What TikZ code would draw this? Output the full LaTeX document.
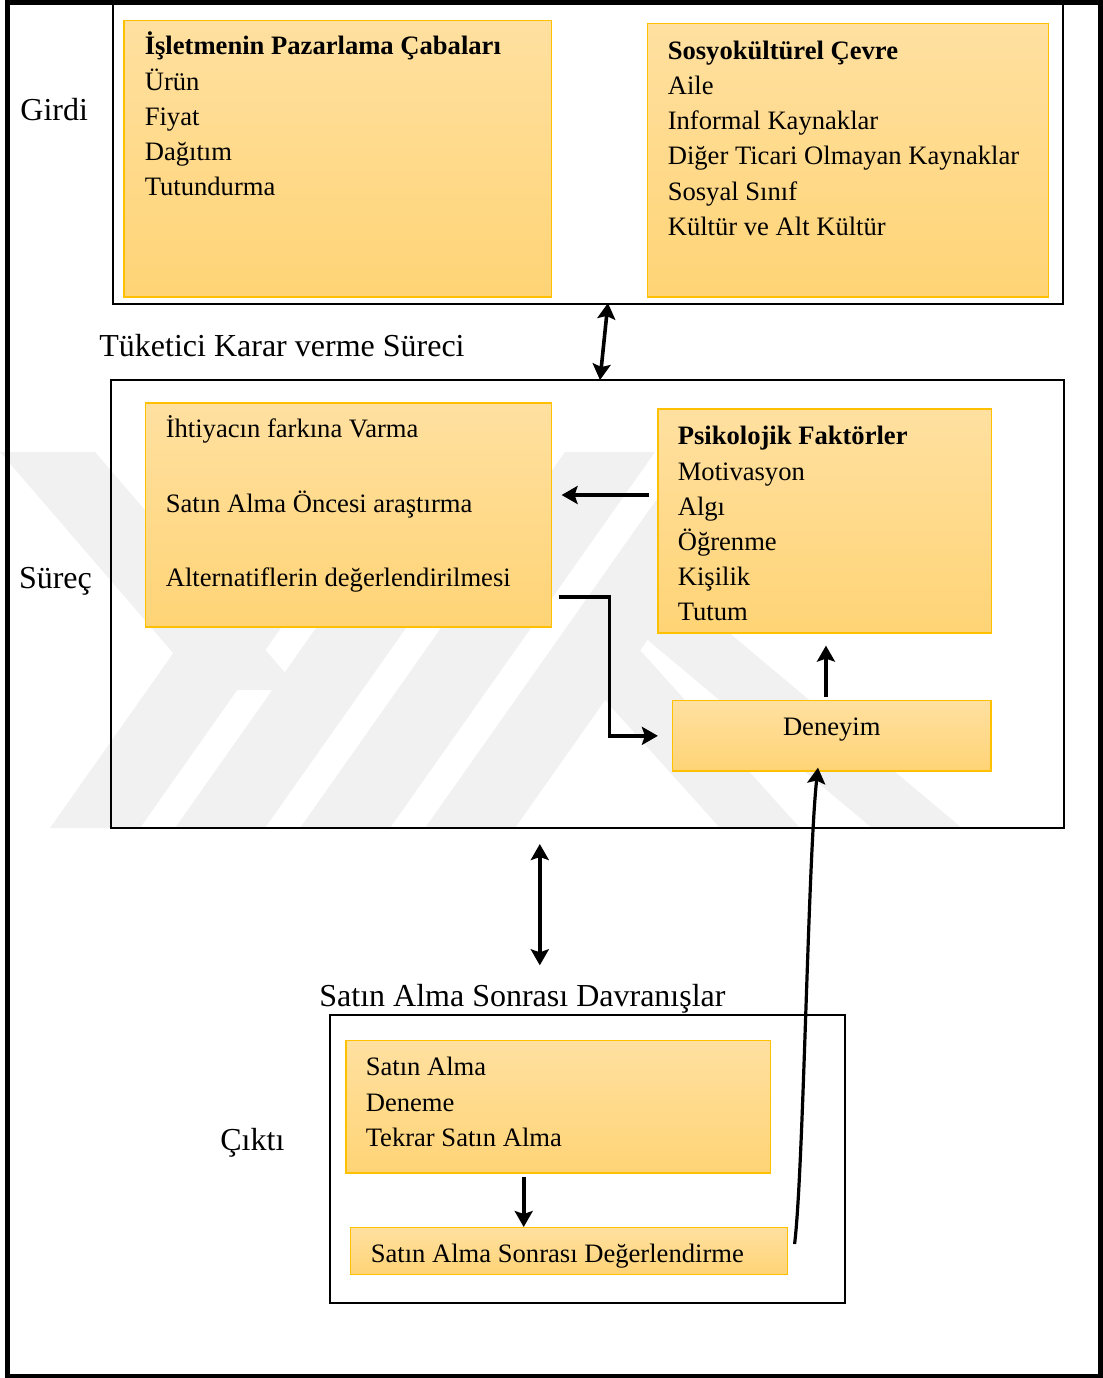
\documentclass[tikz,border=0pt]{standalone}
\usepackage{fontspec}
\setmainfont{Liberation Serif}
\usetikzlibrary{arrows.meta,positioning,fit}

\definecolor{kutuust}{RGB}{255,224,160}
\definecolor{kutualt}{RGB}{255,212,118}
\definecolor{kutucizgi}{RGB}{255,192,0}
\definecolor{filigran}{RGB}{241,241,241}

\begin{document}
\begin{tikzpicture}[x=0.5pt,y=-0.5pt,>={Stealth[length=8pt,width=9pt,inset=1.5pt]},
  kutu/.style={draw=kutucizgi,line width=0.6pt,top color=kutuust,bottom color=kutualt,inner sep=0pt},
  cerceve/.style={draw,line width=1pt,inner sep=0pt},
  yazi/.style={align=left,inner sep=0pt,font=\fontsize{13.3}{17.6}\selectfont},
  etiket/.style={inner sep=0pt,anchor=base west,font=\fontsize{16}{19}\selectfont},
  ok/.style={->,line width=1.8pt},
  ciftok/.style={<->,line width=1.8pt}]
  \useasboundingbox (0,0) rectangle (1103,1378);

  % filigran (arka plan)
  \begin{scope}
    \clip (0,452) rectangle (962,828);
    \foreach \s in {50,175,300,425}
      \fill[filigran] (\s,828) -- ++(90,0) -- ++(265,-376) -- ++(-90,0) -- cycle;
    \fill[filigran] (0,452) -- (95,452) -- (300,690) -- (205,690) -- cycle;
    \fill[filigran] (600,600) -- (690,600) -- (962,828) -- (872,828) -- cycle;
    \fill[filigran] (560,650) -- (640,650) -- (800,828) -- (720,828) -- cycle;
  \end{scope}

  % dis cerceve
  \draw[line width=2.5pt] (7,2.5) rectangle (1100,1376);

  % Girdi
  \node[cerceve, fit={(112.5,4) (1063,304)}] (girdi) {};
  \node[kutu, fit={(124,20.7) (551.8,297)}] (firma) {};
  \node[kutu, fit={(647.4,23.7) (1048.8,297)}] (sosyo) {};
  \node[yazi, below right=4.85pt and 10.5pt of firma.north west] (firmayazi)
    {\strut\textbf{İşletmenin Pazarlama Çabaları}\\Ürün\\Fiyat\\Dağıtım\\Tutundurma};
  \node[yazi, below right=5.6pt and 10.3pt of sosyo.north west] (sosyoyazi)
    {\strut\textbf{Sosyokültürel Çevre}\\Aile\\Informal Kaynaklar\\Diğer Ticari Olmayan Kaynaklar\\Sosyal Sınıf\\Kültür ve Alt Kültür};
  \node[etiket] (girdilbl) at (20,120) {Girdi};

  % Surec
  \node[etiket] (kararlbl) at (99,356) {Tüketici Karar verme Süreci};
  \node[cerceve, fit={(110.7,380) (1063.5,828)}] (surec) {};
  \node[kutu, fit={(145.7,403) (551.8,627)}] (ihtiyac) {};
  \node[kutu, fit={(658,409) (991.3,633)}] (psiko) {};
  \node[kutu, fit={(672.5,700.7) (991,771)}] (deneyim) {};
  \node[yazi, below right=5.2pt and 10.15pt of ihtiyac.north west] (ihtiyacyazi)
    {\strut İhtiyacın farkına Varma\\[19.65pt]Satın Alma Öncesi araştırma\\[19.65pt]Alternatiflerin değerlendirilmesi};
  \node[yazi, below right=5.7pt and 10pt of psiko.north west] (psikoyazi)
    {\strut\textbf{Psikolojik Faktörler}\\Motivasyon\\Algı\\Öğrenme\\Kişilik\\Tutum};
  \node[yazi, below=5.2pt of deneyim.north] (deneyimyazi) {\strut Deneyim};
  \node[etiket] (sureclbl) at (18.6,588) {Süreç};

  % Cikti
  \node[etiket] (davranis) at (319,1006.6) {Satın Alma Sonrası Davranışlar};
  \node[cerceve, fit={(329.6,1015) (845,1302.7)}] (cikti) {};
  \node[kutu, fit={(346,1040.8) (770.6,1173)}] (satin) {};
  \node[kutu, fit={(350.5,1227.6) (787.6,1274.4)}] (deger) {};
  \node[yazi, below right=5.3pt and 10pt of satin.north west] (satinyazi)
    {\strut Satın Alma\\Deneme\\Tekrar Satın Alma};
  \node[yazi, below right=5.4pt and 10.25pt of deger.north west] (degeryazi)
    {\strut Satın Alma Sonrası Değerlendirme};
  \node[etiket] (ciktilbl) at (220,1150) {Çıktı};

  % oklar
  \draw[ciftok] ([xshift=10.1pt,yshift=1pt]girdi.south) -- ([xshift=6.45pt,yshift=-0.5pt]surec.north);
  \draw[ok, shorten <=4pt, shorten >=4.6pt] ([yshift=13pt]psiko.west) -- ([yshift=13pt]ihtiyac.east |- psiko.west);
  \draw[ok, shorten >=7pt] ([xshift=3.45pt,yshift=-40.85pt]ihtiyac.east) -- ++(25.15pt,0pt) |- (deneyim.west);
  \draw[ok, shorten <=1.8pt, shorten >=6pt] ([xshift=-2.9pt]deneyim.north) -- ([xshift=-2.9pt]deneyim.north |- psiko.south);
  \draw[ok, line width=1.6pt] ([xshift=3.2pt,yshift=3.5pt]deger.east)
    .. controls +(9,-74) and +(-10,93) .. ([xshift=-6.9pt,yshift=2pt]deneyim.south);
  \draw[ciftok, shorten >=9.35pt] ([xshift=-23.65pt,yshift=-7.5pt]surec.south) -- ([xshift=-23.65pt]surec.south |- davranis.north);
  \draw[ok] ([xshift=-17.3pt,yshift=-1.5pt]satin.south) -- ([xshift=-17.3pt]satin.south |- deger.north);
\end{tikzpicture}
\end{document}
